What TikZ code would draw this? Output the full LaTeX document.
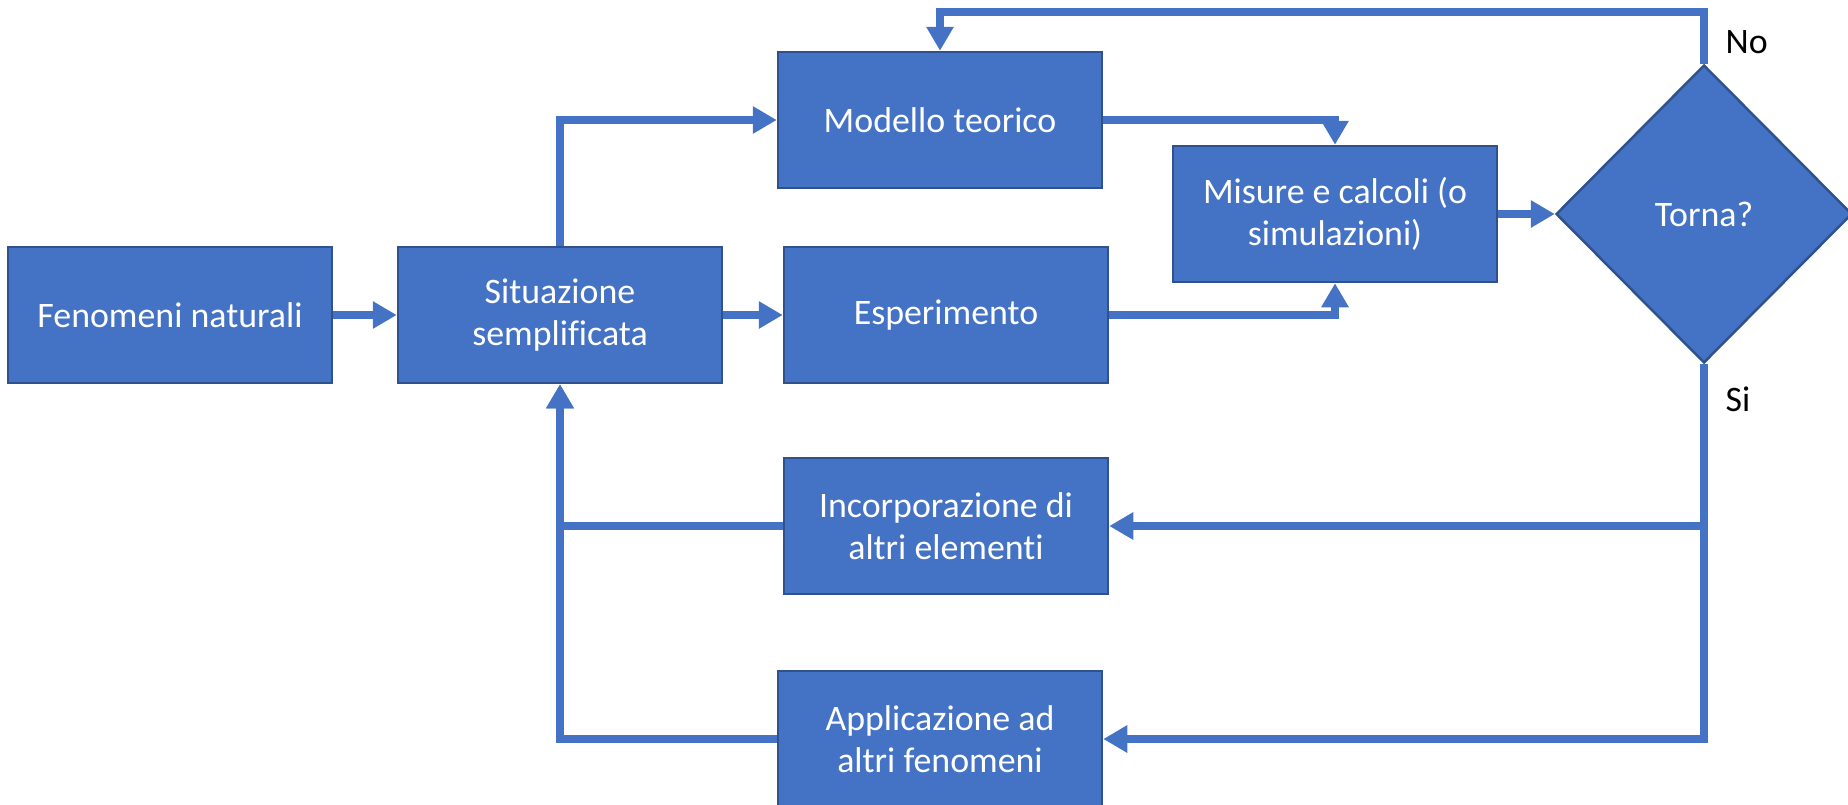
\documentclass[tikz,border=0pt]{standalone}
\usepackage{fontspec}
\setmainfont{Carlito}[Ligatures=NoCommon]
\usetikzlibrary{arrows.meta}
\usetikzlibrary{shapes.geometric}
\definecolor{boxblue}{HTML}{4472C4}
\definecolor{edgeblue}{HTML}{2F528F}

\begin{document}
\begin{tikzpicture}[
  procbox/.style={draw=edgeblue, line width=0.25mm, fill=boxblue, text=white, align=center,
    minimum width=3.24cm, minimum height=1.36cm, inner sep=0pt},
  link/.style={boxblue, line width=0.8mm, -{Triangle[length=2.4mm,width=2.6mm]}},
  every node/.append style={font=\fontsize{10.2}{12}\selectfont}
]

\useasboundingbox (0,0) rectangle (18.48,8.04);
\clip (0,0) rectangle (18.48,8.04);

\node[procbox] (fen) at (1.70,4.89) {Fenomeni naturali};
\node[procbox] (sit) at (5.60,4.89) {Situazione\\semplificata};
\node[procbox] (mod) at (9.40,6.84) {Modello teorico};
\node[procbox] (esp) at (9.46,4.89) {Esperimento};
\node[procbox] (mis) at (13.35,5.90) {Misure e calcoli (o\\simulazioni)};
\node[procbox] (inc) at (9.46,2.78) {Incorporazione di\\altri elementi};
\node[procbox] (app) at (9.40,0.65) {Applicazione ad\\altri fenomeni};
\node[draw=edgeblue, line width=0.25mm, fill=boxblue, text=white, diamond, inner sep=0pt,
  minimum width=2.96cm, minimum height=2.98cm] (torna) at (17.04,5.90) {Torna?};

\coordinate (top) at (0,7.92);

\draw[link] (fen.east) -- (sit.west);
\draw[link] (sit.east) -- (esp.west);
\draw[link] (sit.north) |- (mod.west);
\draw[link] (mod.east) -| (mis.north);
\draw[link] (esp.east) -| (mis.south);
\draw[link] (mis.east) -- (torna.west);

\draw[link] (torna.north) -- (torna.north |- top) -- (mod.north |- top) -- (mod.north);
\draw[link] (torna.south) |- (inc.east);
\draw[link] (torna.south) |- (app.east);
\draw[link] (inc.west) -| (sit.south);
\draw[link] (app.west) -| (sit.south);

\node[anchor=base west, inner sep=0pt] (no) at (17.25,7.51) {No};
\node[anchor=base west, inner sep=0pt] (si) at (17.25,3.93) {Si};

\end{tikzpicture}
\end{document}
